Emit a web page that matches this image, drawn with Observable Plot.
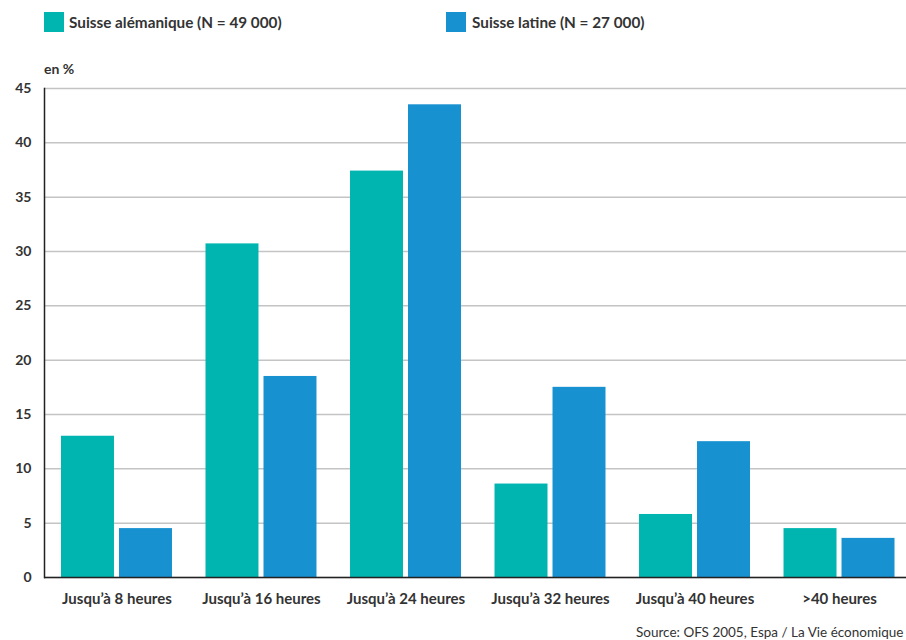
<!DOCTYPE html>
<html><head><meta charset="utf-8">
<script src="https://cdn.jsdelivr.net/npm/d3@7"></script>
<script src="https://cdn.jsdelivr.net/npm/@observablehq/plot@0.6"></script>
<style>
html,body{margin:0;padding:0;background:#fff;overflow:hidden;width:906px;height:640px;}
body{font-family:Lato, "Noto Sans", sans-serif;color:#333;position:relative}
.sw{position:absolute;top:12px;width:20px;height:20px}
.lt{position:absolute;top:12px;font-weight:bold;font-size:15.3px;line-height:20px;white-space:nowrap}
#unit{position:absolute;left:44px;top:60px;font-weight:bold;font-size:14px;line-height:18px}
#chart{position:absolute;top:80px;left:0}
#source{position:absolute;left:636px;top:624px;font-size:13.5px;line-height:16px;white-space:nowrap;color:#333}
</style></head><body>
<div id="legend"></div>
<div id="unit">en %</div>
<div id="chart"></div>
<div id="source">Source: OFS 2005, Espa / La Vie économique</div>
<script>
const categories = ["Jusqu’à 8 heures", "Jusqu’à 16 heures", "Jusqu’à 24 heures", "Jusqu’à 32 heures", "Jusqu’à 40 heures", ">40 heures"];
const seriesNames = ["Suisse alémanique (N = 49 000)", "Suisse latine (N = 27 000)"];
const alemanique = [13.0, 30.7, 37.4, 8.6, 5.8, 4.5];
const latine = [4.5, 18.5, 43.5, 17.5, 12.5, 3.6];
const yTicks = [0, 5, 10, 15, 20, 25, 30, 35, 40, 45];
const colors = ["#00b5b0", "#1891d0"];

const data = [];
categories.forEach((c, i) => {
  data.push({category: c, series: seriesNames[0], value: alemanique[i]});
  data.push({category: c, series: seriesNames[1], value: latine[i]});
});

// legend
const legend = document.getElementById("legend");
const legendX = [[44, 69], [446, 472]];
seriesNames.forEach((s, i) => {
  const sw = document.createElement("div");
  sw.className = "sw"; sw.style.left = legendX[i][0] + "px"; sw.style.background = colors[i];
  const t = document.createElement("div");
  t.className = "lt"; t.style.left = legendX[i][1] + "px"; t.textContent = s;
  legend.appendChild(sw); legend.appendChild(t);
});

const chart = Plot.plot({
  width: 906,
  height: 535,
  marginTop: 8,
  marginBottom: 38,
  marginLeft: 44,
  marginRight: 0,
  style: {fontFamily: "Lato, 'Noto Sans', sans-serif", fontSize: "14px", fontWeight: "bold", color: "#333", background: "#fff"},
  x: {domain: categories, range: [44, 911.5], paddingInner: 0.232, paddingOuter: 0.1176, round: false, label: null},
  y: {domain: [0, 45], label: null},
  color: {domain: seriesNames, range: colors},
  marks: [
    Plot.gridY(yTicks, {stroke: "#c4c4c4", strokeOpacity: 1, strokeWidth: 1.5}),
    Plot.barY(data.filter(d => d.series === seriesNames[0]), {x: "category", y: "value", fill: "series", insetRight: 58}),
    Plot.barY(data.filter(d => d.series === seriesNames[1]), {x: "category", y: "value", fill: "series", insetLeft: 58}),
    Plot.ruleY([0], {stroke: "#222", strokeWidth: 1.5}),
    Plot.frame({anchor: "left", stroke: "#222", strokeWidth: 1.5}),
    Plot.axisY(yTicks, {tickSize: 0, tickPadding: 13, label: null}),
    Plot.axisX({tickSize: 0, tickPadding: 16, label: null, fontSize: "15px"})
  ]
});
document.getElementById("chart").appendChild(chart);
</script>
</body></html>
